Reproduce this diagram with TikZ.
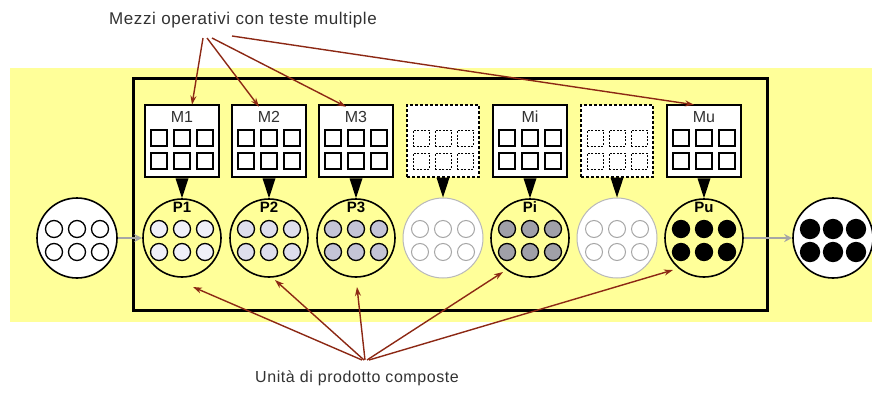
\documentclass[tikz,border=0pt]{standalone}
\usepackage{fontspec}
\setmainfont{Liberation Sans}
\newfontfamily\capfont[LetterSpace=3.5]{Liberation Sans}
\usetikzlibrary{arrows.meta,calc}
\definecolor{bgyel}{RGB}{255,255,153}
\definecolor{arred}{RGB}{140,40,20}
\definecolor{txtgray}{RGB}{50,50,50}
\definecolor{dotA}{RGB}{240,240,248}
\definecolor{dotB}{RGB}{222,222,236}
\definecolor{dotC}{RGB}{196,196,214}
\definecolor{dotD}{RGB}{160,160,168}
\tikzset{
  mbox/.style={draw=black,line width=2.6pt,fill=white,minimum width=74pt,minimum height=72pt,inner sep=0pt},
  dbox/.style={draw=black,dash pattern=on 3pt off 2pt,line width=1.3pt,fill=white,minimum width=72pt,minimum height=72pt,inner sep=0pt},
  sq/.style={draw=black,line width=1.3pt,fill=white,minimum size=16pt,inner sep=0pt},
  dsq/.style={draw=black,dash pattern=on 2pt off 1.5pt,line width=1pt,minimum size=16pt,inner sep=0pt},
  pcirc/.style={circle,draw=black,line width=1.6pt,minimum size=78pt,inner sep=0pt},
  gcirc/.style={circle,draw=gray!55,line width=1pt,fill=white,minimum size=80pt,inner sep=0pt},
  icirc/.style={circle,draw=black,line width=1.6pt,fill=white,minimum size=80pt,inner sep=0pt},
  dot/.style={circle,draw=black,line width=1.3pt,minimum size=17pt,inner sep=0pt},
  gdot/.style={circle,draw=gray!70,line width=1pt,minimum size=17pt,inner sep=0pt},
  mlab/.style={font=\fontsize{16}{16}\selectfont,text=txtgray,inner sep=0pt},
  plab/.style={font=\bfseries\fontsize{15}{15}\selectfont,inner sep=0pt},
  caption/.style={font=\capfont\fontsize{17}{17}\selectfont,text=txtgray,inner sep=0pt},
  captionb/.style={font=\capfont\fontsize{16}{16}\selectfont,text=txtgray,inner sep=0pt},
  redarrow/.style={draw=arred,line width=1.4pt,-{Stealth[length=9pt,width=6pt]}},
  grayarrow/.style={draw=gray!70,line width=2.5pt,-{Stealth[length=8pt,width=8pt]}},
}
\begin{document}
\begin{tikzpicture}[x=1pt,y=-1pt]
\useasboundingbox (0,0) rectangle (872,394);
\fill[bgyel] (10,68) rectangle (872,322);
\node[draw=black,line width=3pt,minimum width=634pt,minimum height=232pt,inner sep=0pt] (frame) at (450,194) {};

% M boxes and P circles
\foreach \n/\x/\lab/\fc/\kind in {1/182/M1/dotA/s,2/269/M2/dotB/s,3/356/M3/dotC/s,4/443//white/d,5/530/Mi/dotD/s,6/617//white/d,7/704/Mu/black/s}{
  \if\kind d
    \node[dbox] (M\n) at (\x,141) {};
    \foreach \c in {-1,0,1}{\foreach \r/\ry in {1/138,2/161}{
      \node[dsq] (M\n-\c-\r) at (\x+22*\c,\ry) {};}}
    \node[gcirc] (P\n) at (\x,238) {};
    \foreach \c in {-1,0,1}{\foreach \r/\ry in {1/229,2/252}{
      \node[gdot] (P\n-\c-\r) at (\x+23*\c,\ry) {};}}
  \else
    \node[mbox] (M\n) at (\x,141) {};
    \node[mlab] (M\n-l) at (\x,117) {\lab};
    \foreach \c in {-1,0,1}{\foreach \r/\ry in {1/138,2/161}{
      \node[sq] (M\n-\c-\r) at (\x+23*\c,\ry) {};}}
    \node[pcirc] (P\n) at (\x,238) {};
    \foreach \c in {-1,0,1}{\foreach \r/\ry in {1/229,2/252}{
      \node[dot,fill=\fc] (P\n-\c-\r) at (\x+23*\c,\ry) {};}}
  \fi
  \fill[black] ([xshift=-6.5pt]M\n.south) -- ([xshift=6.5pt]M\n.south) -- (P\n.north) -- cycle;
}
% P labels
\node[plab] (P1-l) at (182,207) {P1};
\node[plab] (P2-l) at (269,207) {P2};
\node[plab] (P3-l) at (356,207) {P3};
\node[plab] (P5-l) at (530,207) {Pi};
\node[plab] (P7-l) at (704,207) {Pu};

% input and output
\node[icirc] (in) at (77,238) {};
\foreach \c in {-1,0,1}{\foreach \r/\ry in {1/229,2/252}{
  \node[dot,fill=white] (in-\c-\r) at (77+23*\c,\ry) {};}}
\node[icirc] (out) at (833,238) {};
\foreach \c in {-1,0,1}{\foreach \r/\ry in {1/229,2/252}{
  \node[dot,fill=black,minimum size=19pt] (out-\c-\r) at (833+23*\c,\ry) {};}}
\draw[grayarrow] (in) -- (P1);
\draw[grayarrow] (P7) -- (out);

% captions
\node[caption] (top) at (243,20) {Mezzi operativi con teste multiple};
\node[captionb] (bot) at (357,378) {Unità di prodotto composte};
\coordinate (t1) at (203,38);
\coordinate (t2) at (207,38);
\coordinate (t3) at (212,38);
\coordinate (t4) at (232,36);
\draw[redarrow] (t1) -- ([xshift=10pt,yshift=-1pt]M1.north);
\draw[redarrow] (t2) -- ([xshift=-10pt,yshift=-3pt]M2.north);
\draw[redarrow] (t3) -- ([xshift=-10pt,yshift=-3pt]M3.north);
\draw[redarrow] (t4) -- ([xshift=-10pt,yshift=-1pt]M7.north);

\coordinate (b1) at (362,360);
\coordinate (b2) at (364,360);
\coordinate (b3) at (365,360);
\coordinate (b4) at (367,360);
\coordinate (b5) at (369,360);
\draw[redarrow] (b1) -- ($(P1.center)+(11,49)$);
\draw[redarrow] (b2) -- ($(P2.center)+(6,42)$);
\draw[redarrow] (b3) -- ($(P3.center)+(1,49)$);
\draw[redarrow] (b4) -- ($(P5.center)+(-27,34)$);
\draw[redarrow] (b5) -- ($(P7.center)+(-31,32)$);
\end{tikzpicture}
\end{document}
